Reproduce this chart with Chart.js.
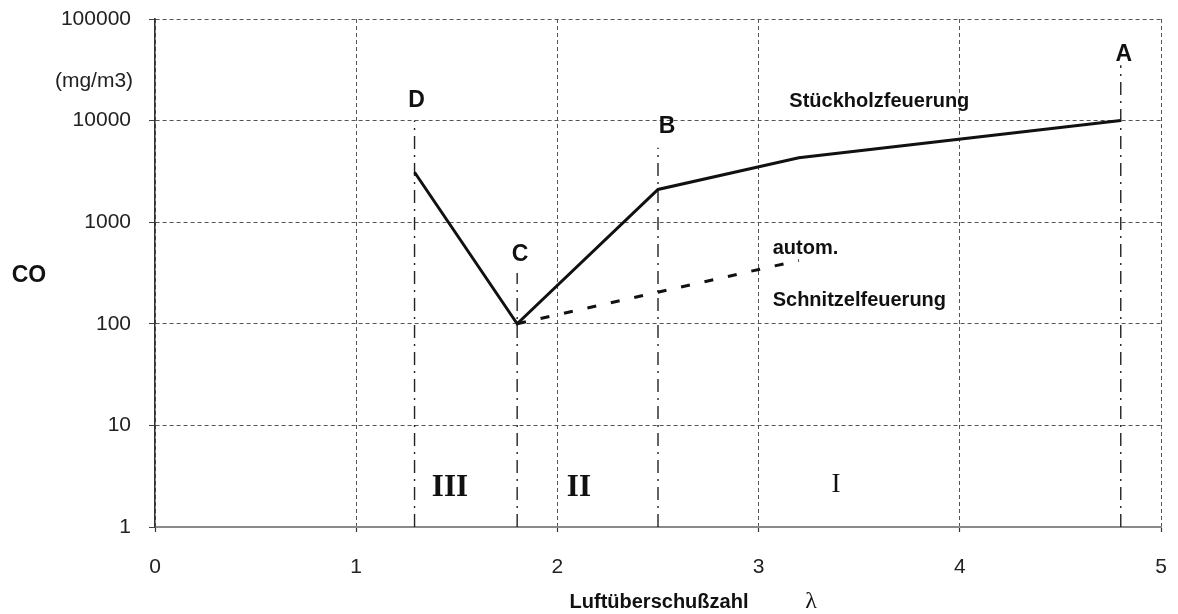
<!DOCTYPE html>
<html>
<head>
<meta charset="utf-8">
<script src="https://cdn.jsdelivr.net/npm/chart.js@4.4.1/dist/chart.umd.min.js"></script>
<style>
  html, body { margin: 0; padding: 0; background: #ffffff; }
  #c { display: block; }
</style>
</head>
<body>
<canvas id="c" width="1178" height="614"></canvas>
<script>
// Stückholzfeuerung (solid curve): air ratio λ and CO in mg/m3
const woodLambda = [1.29, 1.8, 2.5, 3.2, 4.8];
const woodCO     = [3100, 100, 2100, 4300, 10000];

// automatische Schnitzelfeuerung (dashed curve)
const chipLambda = [1.8, 3.2];
const chipCO     = [100, 420];

// operating points A–D: λ and upper end of each marker line
const pointNames  = ['A', 'B', 'C', 'D'];
const pointLambda = [4.8, 2.5, 1.8, 1.29];
const pointTopCO  = [35000, 5400, 316, 10000];

// axis ticks
const xTicks = [0, 1, 2, 3, 4, 5];
const yTicks = [1, 10, 100, 1000, 10000, 100000];

const SANS = '"Liberation Sans", Arial, Helvetica, sans-serif';
const SERIF = '"Liberation Serif", "Times New Roman", serif';
const INK = '#111111';

const toPoints = (xs, ys) => xs.map((x, i) => ({ x: x, y: ys[i] }));

const datasets = [
  {
    label: 'Stückholzfeuerung',
    data: toPoints(woodLambda, woodCO),
    borderColor: INK,
    borderWidth: 3,
    pointRadius: 0,
    tension: 0,
    order: 1
  },
  {
    label: 'autom. Schnitzelfeuerung',
    data: toPoints(chipLambda, chipCO),
    borderColor: INK,
    borderWidth: 3,
    borderDash: [9, 15],
    pointRadius: 0,
    tension: 0,
    order: 1
  }
];

// dash-dot marker lines from λ-axis up to each operating point label
pointNames.forEach((name, i) => {
  datasets.push({
    label: 'Punkt ' + name,
    data: [{ x: pointLambda[i], y: 1 }, { x: pointLambda[i], y: pointTopCO[i] }],
    borderColor: '#222222',
    borderWidth: 1.4,
    borderDash: [13, 6, 2, 6],
    pointRadius: 0,
    order: 2
  });
});

// text placed in data space (λ, CO)
const notes = [
  { text: 'Stückholzfeuerung', x: 3.60, y: 13600, font: 'bold 20px ' + SANS, align: 'center' },
  { text: 'autom.',            x: 3.07, y: 486,   font: 'bold 20px ' + SANS, align: 'left' },
  { text: 'Schnitzelfeuerung', x: 3.07, y: 150,   font: 'bold 20px ' + SANS, align: 'left' },
  { text: 'A', x: 4.815, y: 38600, font: 'bold 23px ' + SANS, align: 'center' },
  { text: 'B', x: 2.545, y: 7550,  font: 'bold 23px ' + SANS, align: 'center' },
  { text: 'C', x: 1.815, y: 415,   font: 'bold 23px ' + SANS, align: 'center' },
  { text: 'D', x: 1.30,  y: 13600, font: 'bold 23px ' + SANS, align: 'center' },
  { text: 'III', x: 1.466, y: 2.02, font: 'bold 31px ' + SERIF, align: 'center' },
  { text: 'II',  x: 2.107, y: 2.02, font: 'bold 31px ' + SERIF, align: 'center' },
  { text: 'I',   x: 3.385, y: 2.21, font: '27px ' + SERIF, align: 'center' }
];

const textPlugin = {
  id: 'chartTexts',
  afterDatasetsDraw(chart) {
    const ctx = chart.ctx;
    const sx = chart.scales.x, sy = chart.scales.y;
    ctx.save();
    ctx.fillStyle = INK;
    ctx.textBaseline = 'alphabetic';
    notes.forEach(n => {
      ctx.font = n.font;
      ctx.textAlign = n.align;
      ctx.fillText(n.text, sx.getPixelForValue(n.x), sy.getPixelForValue(n.y));
    });

    // axis captions
    ctx.textAlign = 'center';
    ctx.textBaseline = 'middle';
    ctx.font = 'bold 23px ' + SANS;
    ctx.fillText('CO', 29, 276);
    ctx.font = '21px ' + SANS;
    ctx.fillStyle = '#222222';
    ctx.fillText('(mg/m3)', 94, 81);

    ctx.fillStyle = INK;
    ctx.textBaseline = 'alphabetic';
    ctx.font = 'bold 20px ' + SANS;
    ctx.fillText('Luftüberschußzahl', 659, 608);
    ctx.font = '24px ' + SERIF;
    ctx.fillText('λ', 811, 608);
    ctx.restore();
  }
};

new Chart(document.getElementById('c'), {
  type: 'line',
  data: { datasets: datasets },
  options: {
    responsive: false,
    animation: false,
    devicePixelRatio: 1,
    layout: { padding: { top: 19, right: 17, left: 0, bottom: 0 } },
    plugins: {
      legend: { display: false },
      tooltip: { enabled: false }
    },
    scales: {
      x: {
        type: 'linear',
        min: 0,
        max: 5,
        afterBuildTicks(scale) { scale.ticks = xTicks.map(v => ({ value: v })); },
        afterFit(scale) {
          scale.height = 87;
          scale.paddingLeft = 0;
          scale.paddingRight = 0;
        },
        ticks: {
          color: '#222222',
          font: { family: SANS, size: 21 },
          padding: 23,
          maxRotation: 0
        },
        grid: {
          color: '#555555',
          lineWidth: 1,
          drawTicks: true,
          tickLength: 5,
          tickColor: '#333333',
          tickWidth: 1.2
        },
        border: { display: true, color: '#8a8a8a', width: 2, dash: [4, 3] }
      },
      y: {
        type: 'logarithmic',
        min: 1,
        max: 100000,
        afterBuildTicks(scale) { scale.ticks = yTicks.map(v => ({ value: v, major: true })); },
        afterFit(scale) {
          scale.width = 155;
          scale.paddingTop = 0;
          scale.paddingBottom = 0;
        },
        ticks: {
          color: '#222222',
          font: { family: SANS, size: 21 },
          padding: 18,
          callback: v => String(v)
        },
        grid: {
          color: '#555555',
          lineWidth: 1,
          drawTicks: true,
          tickLength: 6,
          tickColor: '#444444',
          tickWidth: 1
        },
        border: { display: true, color: '#333333', width: 1.6, dash: [4, 3] }
      }
    }
  },
  plugins: [textPlugin]
});
</script>
</body>
</html>
